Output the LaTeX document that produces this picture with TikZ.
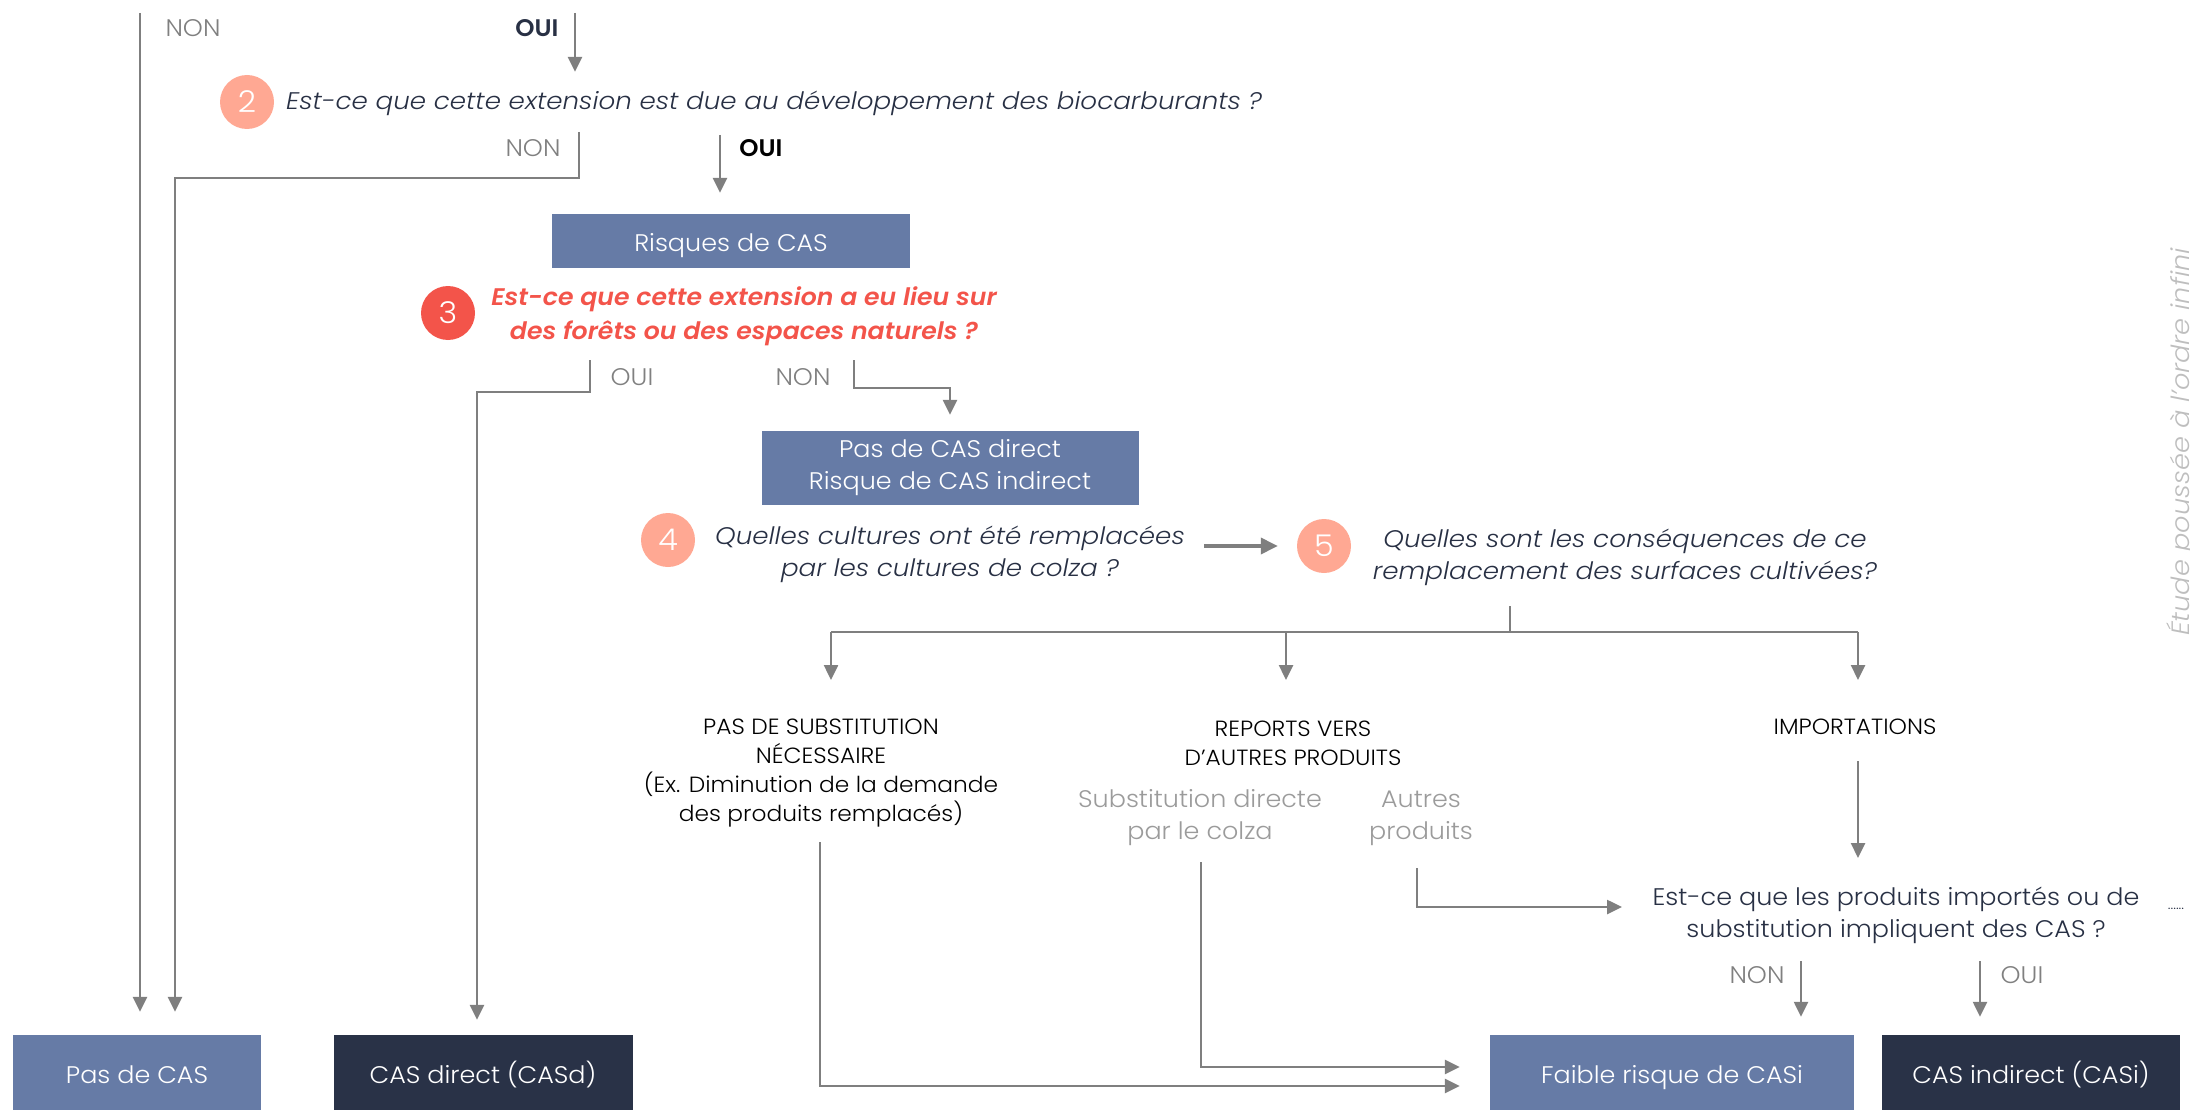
\documentclass[tikz,border=0pt]{standalone}
\usepackage{fontspec}
\IfFontExistsTF{Poppins Light Italic}{%
  \IfFontExistsTF{Poppins SemiBold Italic}{%
    \setmainfont{Poppins}[UprightFont=* Light, ItalicFont=* Light Italic,
      BoldFont=* SemiBold, BoldItalicFont=* SemiBold Italic,
      UprightFeatures={FakeStretch=1.06}, ItalicFeatures={FakeStretch=1.09},
      BoldFeatures={FakeStretch=1.02}, BoldItalicFeatures={FakeStretch=1.05}]}{%
    \setmainfont{Poppins}[UprightFeatures={FakeStretch=1.05}, ItalicFeatures={FakeStretch=1.08},
      BoldItalicFeatures={FakeStretch=1.04}]}}{%
  \setmainfont{Poppins}[UprightFeatures={FakeStretch=1.05}, ItalicFeatures={FakeStretch=1.08},
    BoldItalicFeatures={FakeStretch=1.04}]}
\usetikzlibrary{arrows.meta}
\definecolor{linegray}{RGB}{127,127,127}
\definecolor{labelgray}{RGB}{128,128,128}
\definecolor{palegray}{RGB}{155,155,155}
\definecolor{sidegray}{RGB}{190,190,190}
\definecolor{boxblue}{RGB}{102,123,166}
\definecolor{boxnavy}{RGB}{41,50,71}
\definecolor{textnavy}{RGB}{40,48,68}
\definecolor{salmon}{RGB}{255,168,147}
\definecolor{alert}{RGB}{243,84,74}

\begin{document}
\begin{tikzpicture}[x=1pt,y=-1pt,
  every node/.style={font=\fontsize{24}{32}\selectfont, inner sep=0pt},
  arr/.style={draw=linegray, line width=2.5pt, -{Triangle[length=15pt,width=14pt]}},
  fatarr/.style={draw=linegray, line width=3.5pt, -{Triangle[length=17pt,width=16pt]}},
  wire/.style={draw=linegray, line width=2.5pt},
  box/.style={fill=#1, text=white, align=center},
  flat/.style={text height=24pt, text depth=3pt},
  num/.style={circle, fill=#1, text=white, minimum size=54pt, font=\fontsize{30}{30}\selectfont},
  ask/.style={font=\fontsize{24}{32}\selectfont\itshape, text=textnavy, align=center},
  yesno/.style={text=labelgray},
  choice/.style={font=\fontsize{22}{29}\selectfont, text=black, align=center}]
  \useasboundingbox (0,0) rectangle (2190,1110);

  % questions
  \node[num=salmon] (c2) at (247,102) {2};
  \node[ask, anchor=west] (q2) at (286,103) {Est-ce que cette extension est due au développement des biocarburants ?};
  \node[box=boxblue, flat, minimum width=358pt, minimum height=54pt] (risques) at (731,241) {Risques de CAS};
  \node[num=alert] (c3) at (448,313) {3};
  \node[ask, text=alert, font=\fontsize{24}{34}\selectfont\bfseries\itshape] (q3) at (744,316) {Est-ce que cette extension a eu lieu sur\\des forêts ou des espaces naturels ?};
  \node[box=boxblue, minimum width=377pt, minimum height=74pt, font=\fontsize{24}{32}\selectfont] (direct) at (950,468) {Pas de CAS direct\\Risque de CAS indirect};
  \node[num=salmon] (c4) at (668,540) {4};
  \node[ask] (q4) at (950,554) {Quelles cultures ont été remplacées\\par les cultures de colza ?};
  \node[num=salmon] (c5) at (1324,546) {5};
  \node[ask] (q5) at (1625,557) {Quelles sont les conséquences de ce\\remplacement des surfaces cultivées?};

  % consequences
  \node[choice] (subst) at (821,773) {PAS DE SUBSTITUTION\\NÉCESSAIRE\\(Ex. Diminution de la demande\\des produits remplacés)};
  \node[choice] (reports) at (1293,743) {REPORTS VERS\\D'AUTRES PRODUITS};
  \node[choice] (imports) at (1855,727) {IMPORTATIONS};
  \node[text=palegray, align=center] (colza) at (1200,818) {Substitution directe\\par le colza};
  \node[text=palegray, align=center] (autres) at (1421,818) {Autres\\produits};
  \node[text=textnavy, align=center] (q6) at (1896,915) {Est-ce que les produits importés ou de\\substitution impliquent des CAS ?};
  \node[text=textnavy, font=\fontsize{14}{14}\selectfont] (dots) at (2176,909) {......};

  % outcomes
  \node[box=boxblue, flat, minimum width=248pt, minimum height=76pt] (pas) at (137,1073) {Pas de CAS};
  \node[box=boxnavy, flat, minimum width=299pt, minimum height=76pt] (casd) at (483,1073) {CAS direct (CASd)};
  \node[box=boxblue, flat, minimum width=364pt, minimum height=76pt] (faible) at (1672,1073) {Faible risque de CASi};
  \node[box=boxnavy, flat, minimum width=298pt, minimum height=76pt] (casi) at (2031,1073) {CAS indirect (CASi)};

  % answers
  \node[yesno] (non1) at (193,28) {NON};
  \node[text=textnavy, font=\fontsize{24}{32}\selectfont\bfseries] (oui1) at (537,28) {OUI};
  \node[yesno] (non2) at (533,148) {NON};
  \node[text=black, font=\fontsize{24}{32}\selectfont\bfseries] (oui2) at (761,148) {OUI};
  \node[yesno] (oui3) at (632,377) {OUI};
  \node[yesno] (non3) at (803,377) {NON};
  \node[yesno] (non6) at (1757,975) {NON};
  \node[yesno] (oui6) at (2022,975) {OUI};

  \node[rotate=90, anchor=base west, text=sidegray, font=\fontsize{25}{30}\selectfont\itshape] (side) at (2189,636) {Étude poussée à l'ordre infini};

  % connectors
  \coordinate (t1) at (140,13);
  \coordinate (t2) at (575,13);
  \coordinate (n2) at (579,132);
  \coordinate (o2) at (720,135);
  \coordinate (o3) at (590,360);
  \coordinate (n3) at (854,360);
  \coordinate (s5) at (1510,606);
  \coordinate (fork) at (1510,632);
  \coordinate (b1) at (831,680);
  \coordinate (b2) at (1286,680);
  \coordinate (b3) at (1858,680);
  \coordinate (i1) at (1858,761);
  \coordinate (i2) at (1858,858);
  \coordinate (ps) at (820,842);
  \coordinate (sd) at (1201,862);
  \coordinate (au) at (1417,868);
  \coordinate (q6in) at (1622,907);
  \coordinate (n6) at (1801,961);
  \coordinate (o6) at (1980,961);

  \draw[arr, shorten >=23pt] (t1) -- (t1 |- pas.north);
  \draw[arr, shorten >=3pt] (t2) -- (t2 |- c2.north);
  \draw[arr, shorten >=23pt] (n2) -- ++(0,46) -| ([xshift=38pt]pas.north);
  \draw[arr, shorten >=21pt] (o2) -- (o2 |- risques.north);
  \draw[arr, shorten >=15pt] (o3) -- ++(0,32) -| ([xshift=-6pt]casd.north);
  \draw[arr, shorten >=16pt] (n3) -- ++(0,28) -| (direct.north);
  \draw[fatarr, shorten <=19pt, shorten >=19pt] (q4.east |- c5.west) -- (c5.west);
  \draw[wire] (s5) -- (fork);
  \draw[wire] (b1 |- fork) -- (b3 |- fork);
  \draw[arr] (b1 |- fork) -- (b1);
  \draw[arr] (b2 |- fork) -- (b2);
  \draw[arr] (b3 |- fork) -- (b3);
  \draw[arr] (i1) -- (i2);
  \draw[arr] (au) |- (q6in);
  \draw[arr, shorten >=30pt] (ps) |- ([yshift=-13pt]faible.west);
  \draw[arr, shorten >=30pt] (sd) |- ([yshift=6pt]faible.west);
  \draw[arr, shorten >=18pt] (n6) -- (n6 |- faible.north);
  \draw[arr, shorten >=18pt] (o6) -- (o6 |- casi.north);
\end{tikzpicture}
\end{document}
